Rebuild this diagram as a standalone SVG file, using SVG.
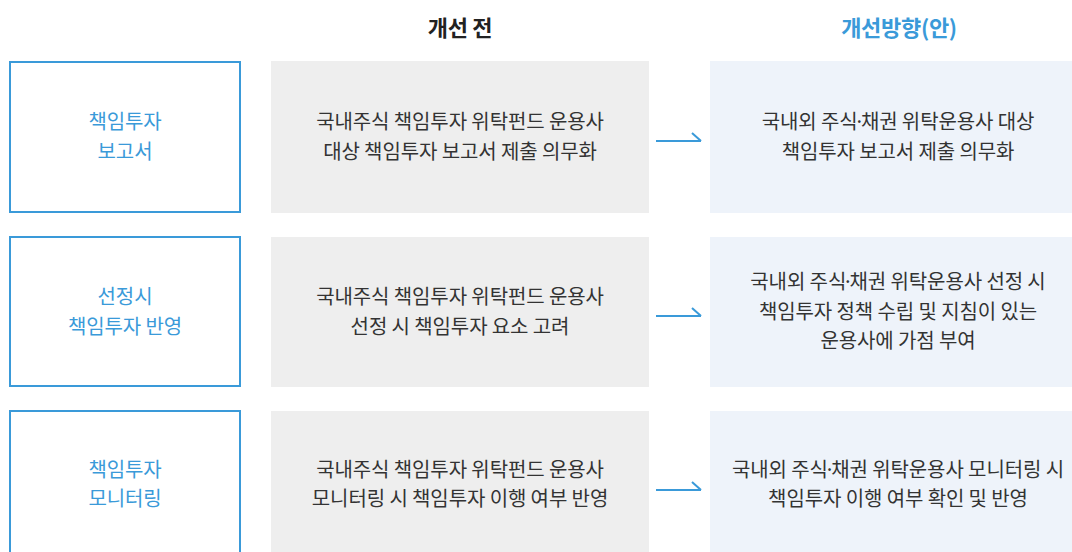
<svg xmlns="http://www.w3.org/2000/svg" width="1072" height="552" viewBox="0 0 1072 552">
<defs>
<style>
.t{font-family:"Noto Sans CJK KR","Noto Sans",sans-serif;font-size:20px;text-anchor:middle;fill:#333333;letter-spacing:-0.1px}
.d{letter-spacing:-4px}
.lb{fill:#ffffff;stroke:#3a9ad9;stroke-width:2}
.lt{fill:#3a9ad9}
.gb{fill:#eeeeee}
.bb{fill:#eef3fa}
.h{font-family:"Noto Sans CJK KR","Noto Sans",sans-serif;font-size:22px;font-weight:bold;text-anchor:middle;letter-spacing:-0.3px}
.c{fill:none;stroke:#3a9ad9;stroke-width:2}
</style>
</defs>
<rect width="1072" height="552" fill="#ffffff"/>
<g id="headers">
<text class="h" x="460" y="36" fill="#222222">개선 전</text>
<text class="h" x="899" y="36" fill="#3a9ad9">개선방향(안)</text>
</g>
<g id="row1-label">
<rect class="lb" x="10" y="62" width="230" height="150"/>
<text class="t lt" x="125" y="129">책임투자</text>
<text class="t lt" x="125" y="159">보고서</text>
</g>
<g id="row1-before">
<rect class="gb" x="271" y="61" width="378" height="152"/>
<text class="t" x="460" y="129">국내주식 책임투자 위탁펀드 운용사</text>
<text class="t" x="460" y="159">대상 책임투자 보고서 제출 의무화</text>
</g>
<g id="row1-after">
<rect class="bb" x="710" y="61" width="362" height="152"/>
<text class="t" x="898" y="129">국내외 주<tspan class="d">식·</tspan>채권 위탁운용사 대상</text>
<text class="t" x="898" y="159">책임투자 보고서 제출 의무화</text>
</g>
<g id="row2-label">
<rect class="lb" x="10" y="237" width="230" height="149"/>
<text class="t lt" x="125" y="304">선정시</text>
<text class="t lt" x="125" y="334">책임투자 반영</text>
</g>
<g id="row2-before">
<rect class="gb" x="271" y="237" width="378" height="150"/>
<text class="t" x="460" y="304">국내주식 책임투자 위탁펀드 운용사</text>
<text class="t" x="460" y="334">선정 시 책임투자 요소 고려</text>
</g>
<g id="row2-after">
<rect class="bb" x="710" y="237" width="362" height="150"/>
<text class="t" x="898" y="289">국내외 주<tspan class="d">식·</tspan>채권 위탁운용사 선정 시</text>
<text class="t" x="898" y="319">책임투자 정책 수립 및 지침이 있는</text>
<text class="t" x="898" y="348">운용사에 가점 부여</text>
</g>
<g id="row3-label">
<rect class="lb" x="10" y="411" width="230" height="150"/>
<text class="t lt" x="125" y="477">책임투자</text>
<text class="t lt" x="125" y="506">모니터링</text>
</g>
<g id="row3-before">
<rect class="gb" x="271" y="411" width="378" height="152"/>
<text class="t" x="460" y="477">국내주식 책임투자 위탁펀드 운용사</text>
<text class="t" x="460" y="506">모니터링 시 책임투자 이행 여부 반영</text>
</g>
<g id="row3-after">
<rect class="bb" x="710" y="411" width="362" height="152"/>
<text class="t" x="898" y="477">국내외 주<tspan class="d">식·</tspan>채권 위탁운용사 모니터링 시</text>
<text class="t" x="898" y="506">책임투자 이행 여부 확인 및 반영</text>
</g>
<g id="connectors">
<path class="c" d="M656 141 H701 M692 133 L701 141"/>
<path class="c" d="M656 316 H701 M692 308 L701 316"/>
<path class="c" d="M656 490 H701 M692 482 L701 490"/>
</g>
</svg>
